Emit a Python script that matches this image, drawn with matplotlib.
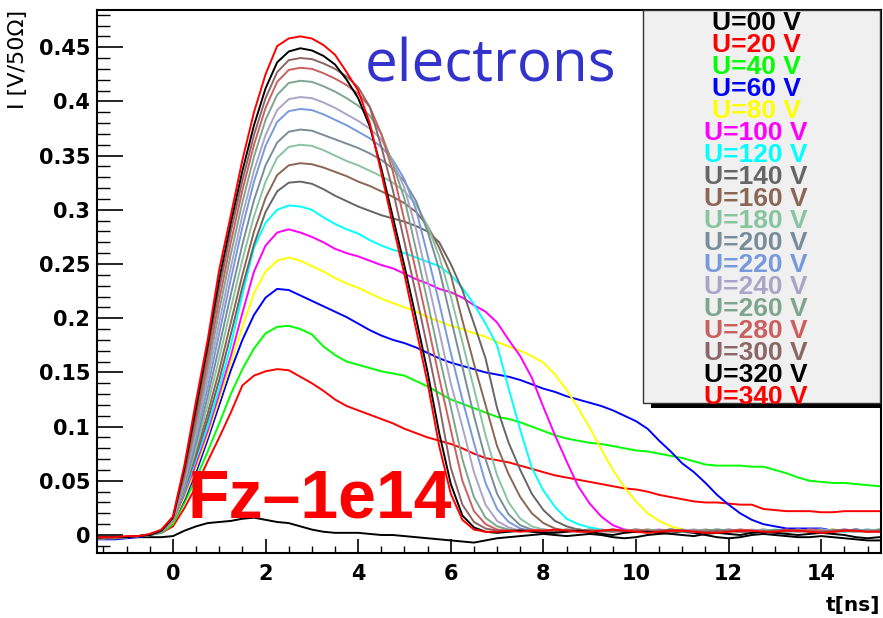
import matplotlib
matplotlib.use('Agg')
import matplotlib.pyplot as plt
from matplotlib.patches import Rectangle
from matplotlib.ticker import MultipleLocator

# bin centres [ns]
t_ns = [-1.75, -1.5, -1.25, -1.0, -0.75, -0.5, -0.25,
        0.0, 0.25, 0.5, 0.75, 1.0, 1.25, 1.5, 1.75, 2.0, 2.25, 2.5, 2.75,
        3.0, 3.25, 3.5, 3.75, 4.0, 4.25, 4.5, 4.75, 5.0, 5.25, 5.5, 5.75, 6.0, 6.25, 6.5, 6.75,
        7.0, 7.25, 7.5, 7.75, 8.0, 8.25, 8.5, 8.75, 9.0, 9.25, 9.5, 9.75, 10.0, 10.25, 10.5, 10.75,
        11.0, 11.25, 11.5, 11.75, 12.0, 12.25, 12.5, 12.75, 13.0, 13.25, 13.5, 13.75, 14.0, 14.25,
        14.5, 14.75, 15.0, 15.25, 15.5]

# current [V/50 Ohm] per bias voltage
i_000 = [-0.002, -0.002, -0.002, -0.002, -0.002, -0.002, -0.002,
         -0.001, 0.004, 0.008, 0.011, 0.012, 0.013, 0.015, 0.016, 0.014, 0.012, 0.011, 0.008,
         0.005, 0.003, 0.002, 0.002, 0.002, 0.001, 0.000, 0.000, -0.001, -0.002, -0.003, -0.004, -0.005, -0.006, -0.007, -0.005,
         -0.003, -0.002, -0.001, 0.000, 0.001, 0.000, -0.001, 0.000, 0.001, 0.000, -0.002, -0.003, -0.002, 0.000, 0.001, 0.002,
         0.003, 0.002, 0.000, -0.002, -0.003, -0.002, 0.000, 0.001, 0.000, -0.001, -0.002, -0.002, -0.001, -0.002, -0.003, -0.004, -0.005, -0.005, -0.004]
i_020 = [-0.003, -0.003, -0.002, -0.002, -0.001, 0.000, 0.002,
         0.008, 0.025, 0.045, 0.068, 0.090, 0.113, 0.138, 0.147, 0.151, 0.153, 0.152, 0.146,
         0.140, 0.133, 0.125, 0.119, 0.115, 0.111, 0.107, 0.103, 0.098, 0.094, 0.090, 0.087, 0.084, 0.080, 0.075, 0.071,
         0.069, 0.067, 0.064, 0.061, 0.058, 0.055, 0.053, 0.051, 0.049, 0.047, 0.045, 0.043, 0.042, 0.040, 0.037, 0.035,
         0.033, 0.031, 0.030, 0.030, 0.029, 0.028, 0.028, 0.024, 0.023, 0.022, 0.022, 0.022, 0.021, 0.021, 0.022, 0.022, 0.022, 0.022, 0.022]
i_040 = [-0.003, -0.003, -0.002, -0.002, -0.001, 0.000, 0.002,
         0.010, 0.030, 0.052, 0.077, 0.103, 0.130, 0.153, 0.172, 0.186, 0.192, 0.193, 0.190,
         0.185, 0.174, 0.166, 0.160, 0.157, 0.154, 0.151, 0.149, 0.147, 0.142, 0.137, 0.131, 0.125, 0.121, 0.117, 0.113,
         0.109, 0.107, 0.104, 0.100, 0.096, 0.092, 0.089, 0.087, 0.085, 0.084, 0.082, 0.080, 0.078, 0.077, 0.075, 0.073,
         0.071, 0.068, 0.065, 0.064, 0.064, 0.064, 0.063, 0.063, 0.060, 0.057, 0.053, 0.050, 0.049, 0.048, 0.048, 0.047, 0.046, 0.045, 0.045]
i_060 = [-0.004, -0.004, -0.004, -0.003, -0.002, 0.000, 0.003,
         0.012, 0.033, 0.058, 0.088, 0.120, 0.152, 0.180, 0.203, 0.219, 0.227, 0.226, 0.221,
         0.216, 0.211, 0.206, 0.201, 0.195, 0.189, 0.184, 0.180, 0.177, 0.173, 0.168, 0.163, 0.159, 0.156, 0.153, 0.150,
         0.148, 0.146, 0.143, 0.139, 0.135, 0.132, 0.128, 0.125, 0.122, 0.119, 0.115, 0.110, 0.105, 0.098, 0.087, 0.077,
         0.066, 0.058, 0.048, 0.037, 0.028, 0.020, 0.014, 0.010, 0.008, 0.006, 0.006, 0.006, 0.006, 0.004, 0.004, 0.005, 0.004, 0.004, 0.004]
i_080 = [-0.003, -0.003, -0.002, -0.002, -0.001, 0.000, 0.003,
         0.012, 0.035, 0.062, 0.092, 0.125, 0.158, 0.192, 0.223, 0.243, 0.253, 0.256, 0.253,
         0.248, 0.243, 0.237, 0.232, 0.228, 0.223, 0.218, 0.214, 0.210, 0.206, 0.201, 0.197, 0.193, 0.190, 0.186, 0.183,
         0.178, 0.174, 0.170, 0.165, 0.159, 0.148, 0.134, 0.117, 0.099, 0.079, 0.060, 0.044, 0.031, 0.020, 0.013, 0.008,
         0.005, 0.004, 0.004, 0.005, 0.004, 0.003, 0.004, 0.004, 0.005, 0.004, 0.004, 0.003, 0.004, 0.005, 0.004, 0.004, 0.003, 0.004, 0.004]
i_100 = [-0.003, -0.003, -0.002, -0.002, -0.001, 0.000, 0.003,
         0.013, 0.038, 0.066, 0.096, 0.130, 0.165, 0.205, 0.243, 0.267, 0.279, 0.282, 0.279,
         0.275, 0.270, 0.264, 0.260, 0.257, 0.253, 0.249, 0.246, 0.241, 0.236, 0.232, 0.227, 0.224, 0.219, 0.212, 0.206,
         0.196, 0.180, 0.165, 0.145, 0.118, 0.092, 0.068, 0.045, 0.029, 0.017, 0.009, 0.005, 0.004, 0.004, 0.005, 0.004,
         0.004, 0.003, 0.004, 0.005, 0.004, 0.004, 0.003, 0.004, 0.004, 0.005, 0.004, 0.004, 0.003, 0.004, 0.005, 0.004, 0.004, 0.003, 0.004]
i_120 = [-0.003, -0.003, -0.002, -0.002, -0.001, 0.000, 0.003,
         0.014, 0.040, 0.070, 0.100, 0.135, 0.175, 0.222, 0.265, 0.288, 0.300, 0.304, 0.303,
         0.300, 0.293, 0.287, 0.282, 0.278, 0.272, 0.267, 0.263, 0.260, 0.256, 0.252, 0.248, 0.240, 0.228, 0.213, 0.195,
         0.175, 0.135, 0.097, 0.062, 0.041, 0.026, 0.015, 0.010, 0.007, 0.005, 0.004, 0.004, 0.005, 0.004, 0.004, 0.005,
         0.004, 0.003, 0.004, 0.005, 0.004, 0.004, 0.003, 0.004, 0.005, 0.004, 0.004, 0.004, 0.005, 0.004, 0.003, 0.004, 0.005, 0.004, 0.004]
i_140 = [-0.003, -0.003, -0.002, -0.002, -0.001, 0.000, 0.003,
         0.014, 0.042, 0.073, 0.106, 0.143, 0.185, 0.229, 0.268, 0.298, 0.317, 0.325, 0.326,
         0.324, 0.319, 0.313, 0.308, 0.303, 0.299, 0.295, 0.292, 0.289, 0.285, 0.280, 0.270, 0.250, 0.226, 0.195, 0.163,
         0.117, 0.085, 0.060, 0.038, 0.023, 0.013, 0.008, 0.005, 0.004, 0.004, 0.005, 0.004, 0.004, 0.003, 0.004, 0.005,
         0.004, 0.004, 0.003, 0.004, 0.005, 0.004, 0.004, 0.003, 0.004, 0.004, 0.005, 0.004, 0.004, 0.003, 0.004, 0.005, 0.004, 0.004, 0.003]
i_160 = [-0.003, -0.003, -0.003, -0.002, -0.001, 0.000, 0.003,
         0.014, 0.043, 0.076, 0.112, 0.152, 0.196, 0.240, 0.280, 0.311, 0.332, 0.341, 0.343,
         0.342, 0.339, 0.335, 0.331, 0.326, 0.322, 0.317, 0.312, 0.306, 0.298, 0.285, 0.265, 0.240, 0.198, 0.158, 0.120,
         0.082, 0.056, 0.035, 0.020, 0.011, 0.006, 0.004, 0.004, 0.005, 0.004, 0.004, 0.003, 0.004, 0.005, 0.004, 0.004,
         0.003, 0.004, 0.005, 0.004, 0.004, 0.003, 0.004, 0.005, 0.004, 0.004, 0.003, 0.004, 0.004, 0.005, 0.004, 0.003, 0.004, 0.004, 0.005]
i_180 = [-0.003, -0.003, -0.002, -0.002, -0.001, 0.000, 0.003,
         0.014, 0.044, 0.080, 0.120, 0.163, 0.209, 0.254, 0.294, 0.326, 0.348, 0.358, 0.360,
         0.359, 0.355, 0.350, 0.345, 0.341, 0.336, 0.331, 0.325, 0.317, 0.305, 0.285, 0.257, 0.220, 0.178, 0.135, 0.092,
         0.055, 0.030, 0.015, 0.008, 0.005, 0.004, 0.004, 0.005, 0.004, 0.004, 0.003, 0.004, 0.005, 0.004, 0.004, 0.003,
         0.004, 0.005, 0.004, 0.004, 0.003, 0.004, 0.004, 0.005, 0.004, 0.003, 0.004, 0.004, 0.005, 0.004, 0.004, 0.003, 0.004, 0.005, 0.004]
i_200 = [-0.003, -0.003, -0.002, -0.002, -0.001, 0.000, 0.003,
         0.015, 0.046, 0.085, 0.128, 0.174, 0.222, 0.268, 0.309, 0.341, 0.362, 0.372, 0.374,
         0.373, 0.369, 0.365, 0.361, 0.357, 0.352, 0.346, 0.338, 0.326, 0.308, 0.280, 0.245, 0.200, 0.155, 0.110, 0.070,
         0.038, 0.019, 0.009, 0.005, 0.004, 0.004, 0.005, 0.004, 0.003, 0.004, 0.004, 0.005, 0.004, 0.003, 0.004, 0.004,
         0.005, 0.004, 0.003, 0.003, 0.004, 0.005, 0.004, 0.004, 0.003, 0.004, 0.005, 0.004, 0.004, 0.003, 0.004, 0.004, 0.005, 0.004, 0.004]
i_220 = [-0.003, -0.003, -0.003, -0.002, -0.001, 0.000, 0.003,
         0.015, 0.048, 0.090, 0.136, 0.186, 0.236, 0.284, 0.326, 0.359, 0.381, 0.391, 0.393,
         0.392, 0.388, 0.383, 0.378, 0.372, 0.366, 0.358, 0.346, 0.328, 0.300, 0.258, 0.214, 0.168, 0.125, 0.085, 0.048,
         0.024, 0.012, 0.006, 0.004, 0.004, 0.005, 0.004, 0.004, 0.003, 0.004, 0.005, 0.004, 0.004, 0.003, 0.004, 0.005,
         0.004, 0.004, 0.003, 0.004, 0.005, 0.004, 0.004, 0.003, 0.004, 0.004, 0.005, 0.004, 0.003, 0.004, 0.004, 0.005, 0.004, 0.004, 0.003]
i_240 = [-0.003, -0.003, -0.002, -0.002, -0.001, 0.000, 0.004,
         0.015, 0.050, 0.095, 0.144, 0.196, 0.247, 0.295, 0.336, 0.369, 0.392, 0.402, 0.404,
         0.403, 0.399, 0.394, 0.388, 0.382, 0.375, 0.365, 0.345, 0.320, 0.282, 0.235, 0.188, 0.140, 0.100, 0.058, 0.028,
         0.013, 0.007, 0.004, 0.004, 0.005, 0.004, 0.004, 0.003, 0.004, 0.005, 0.004, 0.004, 0.005, 0.004, 0.003, 0.004,
         0.004, 0.005, 0.004, 0.003, 0.004, 0.004, 0.005, 0.004, 0.003, 0.003, 0.004, 0.005, 0.005, 0.004, 0.004, 0.003, 0.004, 0.005, 0.004]
i_260 = [-0.003, -0.003, -0.003, -0.002, -0.001, 0.000, 0.004,
         0.015, 0.053, 0.100, 0.152, 0.207, 0.259, 0.307, 0.349, 0.383, 0.406, 0.417, 0.419,
         0.418, 0.414, 0.409, 0.403, 0.396, 0.387, 0.370, 0.342, 0.310, 0.263, 0.215, 0.165, 0.118, 0.070, 0.035, 0.016,
         0.008, 0.005, 0.004, 0.004, 0.005, 0.004, 0.003, 0.004, 0.005, 0.004, 0.004, 0.003, 0.004, 0.005, 0.004, 0.004,
         0.003, 0.004, 0.004, 0.005, 0.004, 0.003, 0.003, 0.004, 0.004, 0.003, 0.004, 0.005, 0.004, 0.004, 0.003, 0.004, 0.004, 0.005, 0.004]
i_280 = [-0.003, -0.003, -0.002, -0.002, -0.001, 0.000, 0.004,
         0.016, 0.055, 0.106, 0.160, 0.217, 0.270, 0.318, 0.360, 0.394, 0.418, 0.429, 0.431,
         0.430, 0.426, 0.421, 0.415, 0.407, 0.395, 0.370, 0.335, 0.290, 0.243, 0.195, 0.145, 0.097, 0.050, 0.022, 0.010,
         0.005, 0.004, 0.004, 0.005, 0.004, 0.003, 0.004, 0.005, 0.004, 0.004, 0.003, 0.004, 0.005, 0.004, 0.003, 0.003,
         0.004, 0.004, 0.003, 0.003, 0.004, 0.005, 0.004, 0.003, 0.003, 0.004, 0.004, 0.005, 0.004, 0.003, 0.004, 0.004, 0.003, 0.004, 0.004]
i_300 = [-0.003, -0.003, -0.002, -0.002, -0.001, 0.000, 0.004,
         0.016, 0.058, 0.112, 0.168, 0.227, 0.280, 0.327, 0.369, 0.403, 0.427, 0.438, 0.440,
         0.439, 0.435, 0.430, 0.423, 0.413, 0.395, 0.358, 0.318, 0.270, 0.222, 0.172, 0.120, 0.062, 0.028, 0.012, 0.006,
         0.004, 0.004, 0.005, 0.004, 0.003, 0.004, 0.005, 0.005, 0.004, 0.003, 0.004, 0.004, 0.003, 0.003, 0.004, 0.005,
         0.004, 0.003, 0.003, 0.004, 0.004, 0.003, 0.002, 0.003, 0.004, 0.005, 0.004, 0.003, 0.003, 0.004, 0.005, 0.004, 0.003, 0.004, 0.005]
i_320 = [-0.003, -0.002, -0.002, -0.002, -0.001, 0.000, 0.004,
         0.016, 0.062, 0.118, 0.175, 0.236, 0.288, 0.336, 0.378, 0.412, 0.436, 0.446, 0.449,
         0.447, 0.442, 0.434, 0.420, 0.403, 0.377, 0.338, 0.293, 0.248, 0.200, 0.150, 0.094, 0.047, 0.018, 0.007, 0.003,
         0.002, 0.003, 0.004, 0.003, 0.002, 0.002, 0.003, 0.004, 0.003, 0.001, 0.000, 0.002, 0.003, 0.003, 0.002, 0.001,
         0.000, -0.001, 0.001, 0.002, 0.001, 0.000, 0.002, 0.003, 0.002, 0.001, 0.000, 0.001, 0.002, 0.001, 0.000, -0.002, -0.003, -0.002, -0.001]
i_340 = [-0.002, -0.002, -0.002, -0.001, -0.001, 0.001, 0.005,
         0.017, 0.065, 0.124, 0.180, 0.245, 0.295, 0.346, 0.390, 0.425, 0.451, 0.458, 0.460,
         0.458, 0.452, 0.443, 0.427, 0.410, 0.380, 0.334, 0.286, 0.240, 0.190, 0.140, 0.082, 0.038, 0.014, 0.005, 0.003,
         0.003, 0.004, 0.003, 0.004, 0.004, 0.005, 0.004, 0.003, 0.003, 0.004, 0.005, 0.004, 0.003, 0.002, 0.003, 0.004,
         0.004, 0.003, 0.002, 0.002, 0.003, 0.004, 0.004, 0.003, 0.003, 0.004, 0.004, 0.003, 0.002, 0.003, 0.004, 0.004, 0.003, 0.003, 0.004]

curves = [i_000, i_020, i_040, i_060, i_080, i_100, i_120, i_140, i_160,
          i_180, i_200, i_220, i_240, i_260, i_280, i_300, i_320, i_340]
labels = ['U=00 V', 'U=20 V', 'U=40 V', 'U=60 V', 'U=80 V', 'U=100 V', 'U=120 V',
          'U=140 V', 'U=160 V', 'U=180 V', 'U=200 V', 'U=220 V', 'U=240 V',
          'U=260 V', 'U=280 V', 'U=300 V', 'U=320 V', 'U=340 V']
colors = ['#000000', '#ff0000', '#00ff00', '#0000ff', '#ffff00', '#ff00ff', '#00ffff',
          '#666666', '#8b6654', '#88c4a0', '#7a8c99', '#7799dd', '#aaa4c8',
          '#7fa58f', '#cc5f5f', '#8c6666', '#000000', '#ff0000']

y_ticks = [0, 0.05, 0.1, 0.15, 0.2, 0.25, 0.3, 0.35, 0.4, 0.45]
y_tick_labels = ['0', '0.05', '0.1', '0.15', '0.2', '0.25', '0.3', '0.35', '0.4', '0.45']
x_ticks = [0, 2, 4, 6, 8, 10, 12, 14]

W, H = 883, 618
fig = plt.figure(figsize=(W / 100, H / 100), dpi=100)
ax = fig.add_axes([97 / W, 1 - 553 / H, (881 - 97) / W, (553 - 10) / H])

for vals, c in zip(curves, colors):
    ax.plot(t_ns, vals, color=c, lw=1.4)

ax.set_xlim(-1.64, 15.29)
ax.set_ylim(-0.0166, 0.4843)
ax.set_yticks(y_ticks)
ax.set_yticklabels(y_tick_labels)
ax.set_xticks(x_ticks)
ax.xaxis.set_minor_locator(MultipleLocator(0.5))
ax.yaxis.set_minor_locator(MultipleLocator(0.01))
ax.tick_params(which='both', direction='in', top=False, right=False)
ax.tick_params(axis='y', which='major', length=19, width=1.2, pad=5)
ax.tick_params(axis='y', which='minor', length=9.5, width=1.0)
ax.tick_params(axis='x', which='major', length=10, width=1.2, pad=8)
ax.tick_params(axis='x', which='minor', length=5, width=1.0)
for lab in ax.get_xticklabels() + ax.get_yticklabels():
    lab.set_fontsize(15)
    lab.set_fontweight('bold')
for s in ax.spines.values():
    s.set_linewidth(1.5)

fig.text(18 / W, 1 - 10 / H, 'I [V/50\u03a9]', rotation=90, ha='center', va='top', fontsize=16)
fig.text(880 / W, 1 - 611 / H, 't[ns]', ha='right', va='baseline', fontsize=14.5, fontweight='bold')

fig.text(365 / W, 1 - 82 / H, 'electrons', color='#3333cc', fontsize=42,
         family='Open Sans', va='baseline', ha='left')
fig.text(188 / W, 1 - 517 / H, 'Fz\u20131e14', color='#ff0000', fontsize=49,
         family='Liberation Sans', fontweight='bold', va='baseline', ha='left', zorder=10)

# legend box with shadow
fig.add_artist(Rectangle((651 / W, 1 - 408 / H), (881 - 651) / W, (408 - 16) / H,
                         transform=fig.transFigure, facecolor='black', edgecolor='none', zorder=5))
fig.add_artist(Rectangle((643 / W, 1 - 403 / H), (880 - 643) / W, (403 - 10) / H,
                         transform=fig.transFigure, facecolor='#f0f0f0', edgecolor='#333333',
                         lw=1.0, zorder=6))
for k, (lab, c) in enumerate(zip(labels, colors)):
    y_px = 23 + k * 22
    fig.text(756 / W, 1 - y_px / H, lab, color=c, fontsize=19, family='Liberation Sans',
             fontweight='bold', ha='center', va='center', zorder=7)

fig.savefig('out.png', dpi=100, facecolor='white')
